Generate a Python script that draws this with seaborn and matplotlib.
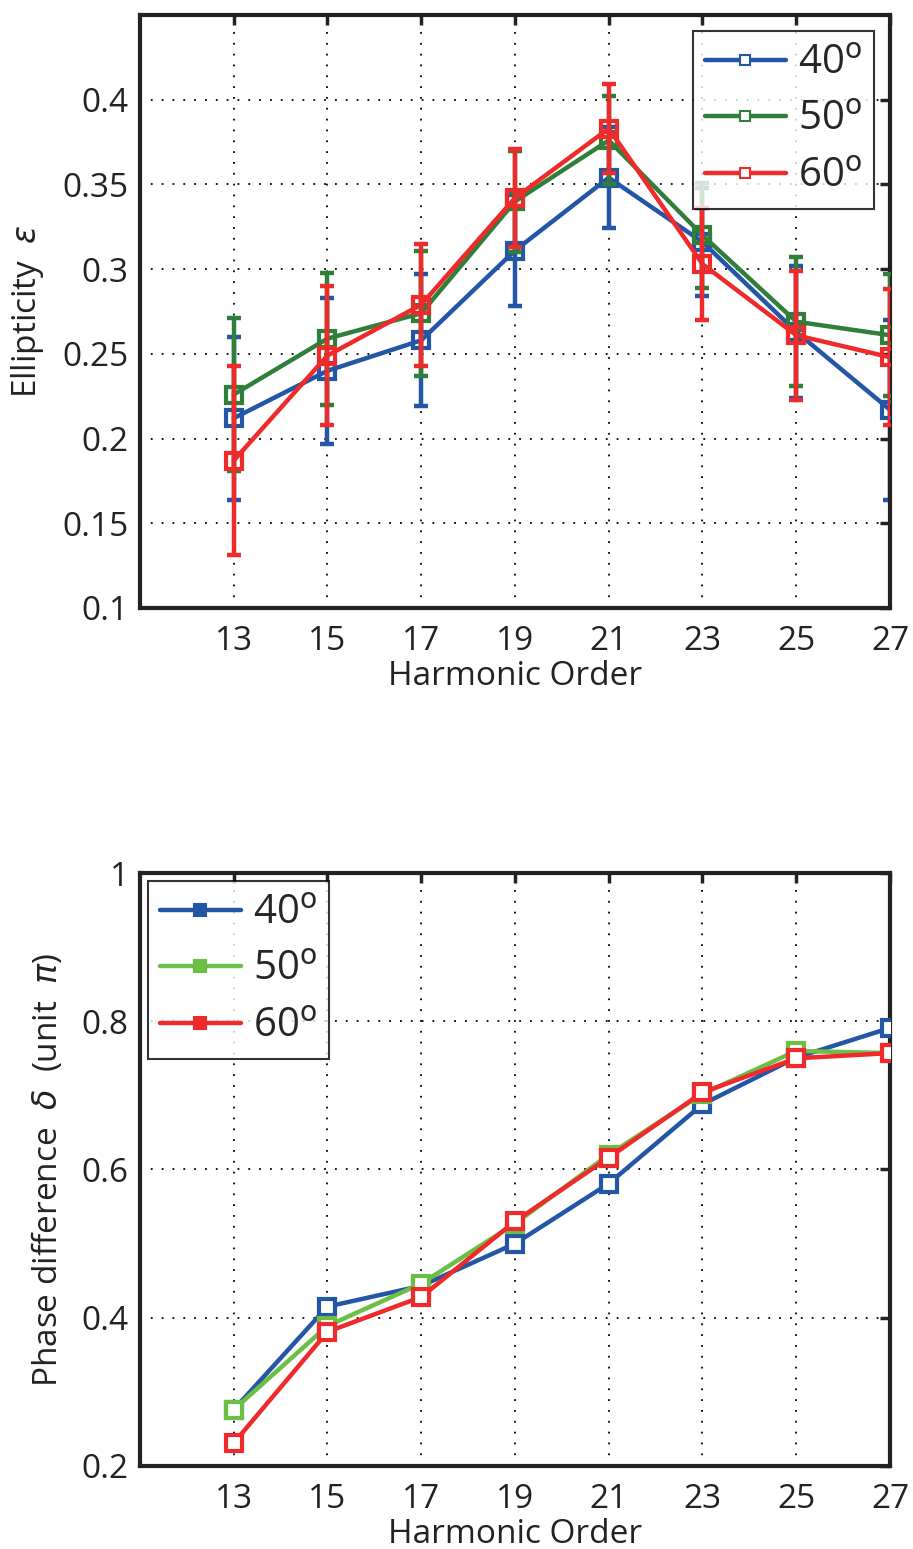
import numpy as np
import pandas as pd
import matplotlib
matplotlib.use('Agg')
import matplotlib.pyplot as plt
from matplotlib.lines import Line2D
import seaborn as sns

# DATA
harmonics = [13, 15, 17, 19, 21, 23, 25, 27]
angles = ['40', '50', '60']

# ellipticity (top panel) with error bars
ell_40 = [0.212, 0.240, 0.258, 0.311, 0.354, 0.316, 0.263, 0.217]
ell_50 = [0.226, 0.259, 0.274, 0.340, 0.376, 0.320, 0.269, 0.261]
ell_60 = [0.187, 0.249, 0.279, 0.342, 0.383, 0.303, 0.261, 0.248]
err_40 = [0.048, 0.043, 0.039, 0.033, 0.030, 0.032, 0.039, 0.053]
err_50 = [0.045, 0.039, 0.037, 0.030, 0.026, 0.031, 0.038, 0.036]
err_60 = [0.056, 0.041, 0.036, 0.029, 0.026, 0.033, 0.038, 0.040]

# phase difference (bottom panel)
phase_40 = [0.276, 0.415, 0.443, 0.500, 0.581, 0.688, 0.751, 0.791]
phase_50 = [0.276, 0.389, 0.446, 0.527, 0.620, 0.702, 0.760, 0.757]
phase_60 = [0.231, 0.381, 0.428, 0.530, 0.616, 0.704, 0.750, 0.757]

yticks_top = [0.1, 0.15, 0.2, 0.25, 0.3, 0.35, 0.4]
yticks_bot = [0.2, 0.4, 0.6, 0.8, 1.0]

colors_top = ['#2356a6', '#2f7f3a', '#ee2a2a']
colors_bot = ['#2356a6', '#6cbf45', '#ee2a2a']

sns.set_style('white')
plt.rcParams['font.family'] = ['Open Sans', 'DejaVu Sans']
plt.rcParams['mathtext.fontset'] = 'dejavusans'

fig = plt.figure(figsize=(9.13, 15.49), dpi=100)
ax1 = fig.add_axes([0.1533, 0.6075, 0.8215, 0.3828])
ax2 = fig.add_axes([0.1533, 0.0536, 0.8215, 0.3828])

# top panel
ell = [ell_40, ell_50, ell_60]
errs = [err_40, err_50, err_60]
for i, a in enumerate(angles):
    df = pd.DataFrame({'order': harmonics, 'val': ell[i]})
    ax1.errorbar(harmonics, ell[i], yerr=errs[i], fmt='none', ecolor=colors_top[i],
                 elinewidth=3.2, capsize=5, capthick=3.2, zorder=2 + i)
    sns.lineplot(data=df, x='order', y='val', ax=ax1, color=colors_top[i], lw=3.2,
                 marker='s', markersize=11, markerfacecolor='none',
                 markeredgecolor=colors_top[i], markeredgewidth=3, zorder=3 + i,
                 legend=False)

# bottom panel
phase = [phase_40, phase_50, phase_60]
for i, a in enumerate(angles):
    df = pd.DataFrame({'order': harmonics, 'val': phase[i]})
    sns.lineplot(data=df, x='order', y='val', ax=ax2, color=colors_bot[i], lw=3.2,
                 marker='s', markersize=11, markerfacecolor='white',
                 markeredgecolor=colors_bot[i], markeredgewidth=3, zorder=3 + i,
                 legend=False)

for ax, yt, ylim in [(ax1, yticks_top, (0.1, 0.45)), (ax2, yticks_bot, (0.2, 1.0))]:
    ax.set_xlim(11, 27)
    ax.set_ylim(*ylim)
    ax.set_xticks(harmonics)
    ax.set_xticklabels([str(h) for h in harmonics])
    ax.set_yticks(yt)
    ax.set_yticklabels([('%g' % v) for v in yt])
    ax.grid(True, color='black', linestyle=(0, (1, 5)), linewidth=1.3)
    ax.tick_params(direction='in', length=7, width=2.5, labelsize=24,
                   top=True, right=True, pad=8, colors='#222222')
    ax.tick_params(axis='x', pad=12)
    for s in ax.spines.values():
        s.set_linewidth(3)
        s.set_color('#222222')
    ax.set_xlabel('Harmonic Order', fontsize=24, labelpad=2, color='#222222')

ax1.set_ylabel(r'Ellipticity  $\varepsilon$', fontsize=24, labelpad=12, color='#222222')
ax2.set_ylabel(r'Phase difference  $\delta$  (unit  $\pi$)', fontsize=24, labelpad=12,
               color='#222222')

labels = [a + r'$^{\rm o}$' for a in angles]
h_top = [Line2D([], [], color=c, lw=3.2, marker='s', markersize=7,
                markerfacecolor='white', markeredgewidth=1.5) for c in colors_top]
h_bot = [Line2D([], [], color=c, lw=3.2, marker='s', markersize=9,
                markerfacecolor=c, markeredgewidth=1.5) for c in colors_bot]

leg1 = ax1.legend(h_top, labels, loc='upper right', fontsize=29, frameon=True,
                  fancybox=False, edgecolor='black', handlelength=2.0,
                  borderaxespad=0.4, labelspacing=0.4, handletextpad=0.3,
                  borderpad=0.3)
leg1.get_frame().set_linewidth(1.5)
leg2 = ax2.legend(h_bot, labels, loc='upper left', fontsize=29, frameon=True,
                  fancybox=False, edgecolor='black', handlelength=2.0,
                  borderaxespad=0.2, labelspacing=0.4, handletextpad=0.3,
                  borderpad=0.3)
leg2.get_frame().set_linewidth(1.5)

plt.savefig('out.png', dpi=100)
